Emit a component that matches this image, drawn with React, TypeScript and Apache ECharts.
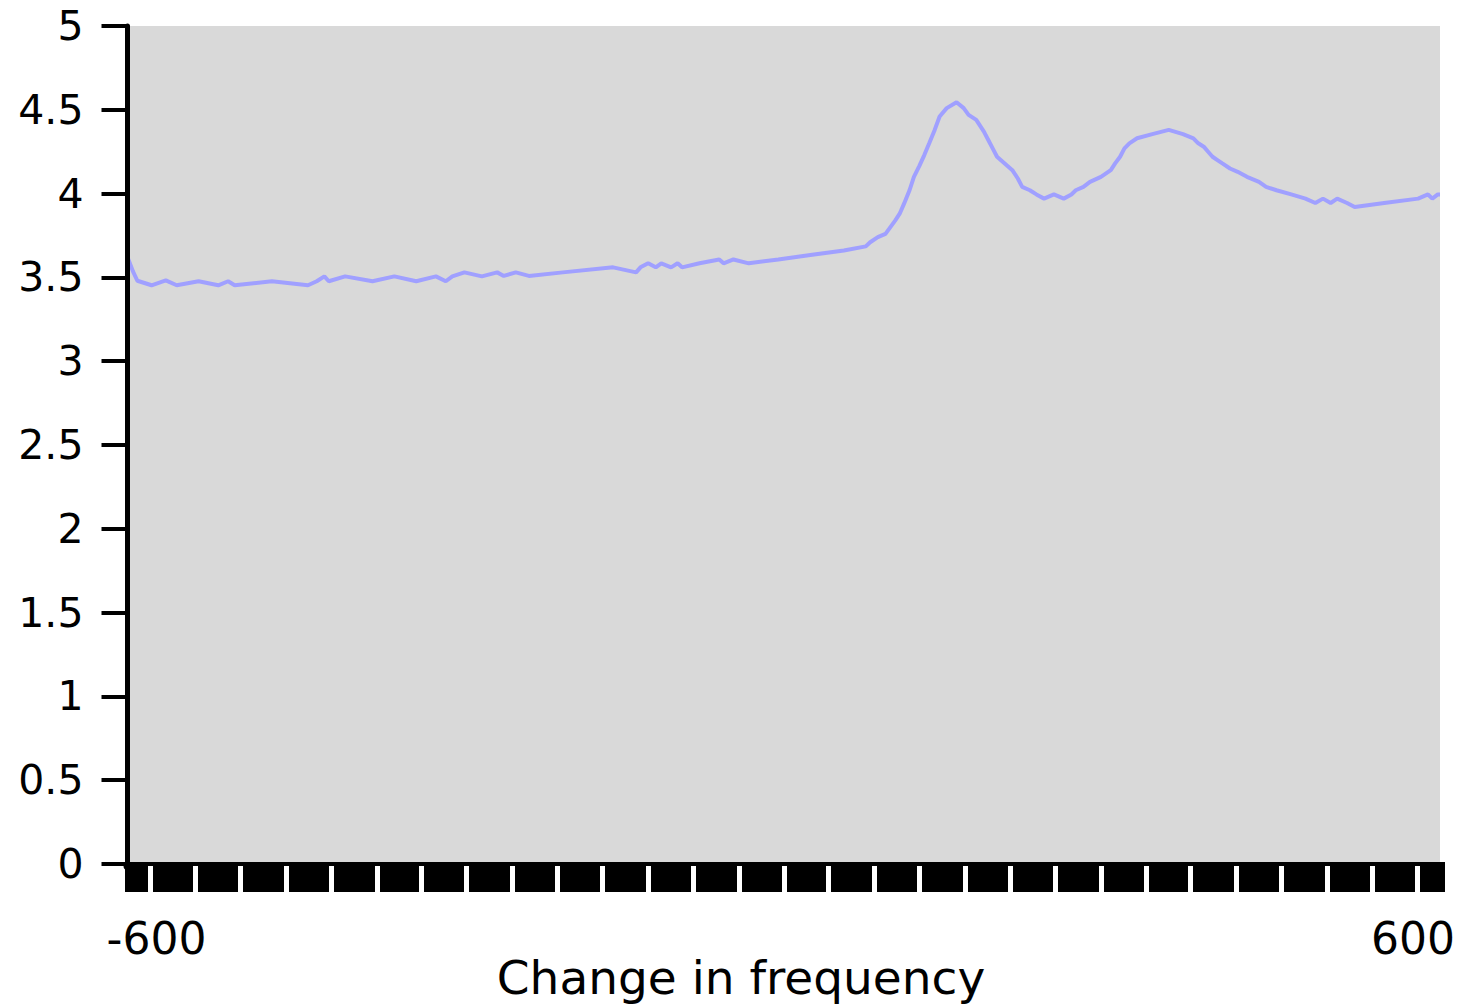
import React, { useEffect, useRef } from "react";
import * as echarts from "echarts";

const freq = [
  -600, -595, -591, -578, -565, -555, -535, -517, -508, -502, -468, -435, -427, -420, -416, -401,
  -376, -356, -336, -318, -309, -303, -292, -276, -262, -256, -245, -233, -202, -156, -135, -131,
  -124, -117, -112, -103, -97, -93, -77, -59, -55, -46, -32, -5, 26, 55, 75, 79, 86, 93, 97.5, 102,
  106, 110, 115, 119, 124, 128.5, 133, 138, 142.5, 149, 158, 164.5, 169, 176, 183, 187, 191, 195,
  202, 209, 214, 218, 225, 231, 238, 247, 256, 263, 267, 274, 280, 290, 299, 303, 307.5, 311.5, 316,
  323, 337, 352, 365, 374.5, 379, 384, 388, 392, 396.5, 401, 408, 415, 423.5, 434.5, 441, 450.5, 464,
  477, 486, 493, 500, 506, 515, 522, 549, 580, 589, 593, 598, 600,
];

const amplitude = [
  3.62, 3.536, 3.48, 3.453, 3.482, 3.453, 3.477, 3.453, 3.477, 3.453, 3.477, 3.453, 3.477, 3.506,
  3.477, 3.506, 3.477, 3.506, 3.477, 3.506, 3.477, 3.506, 3.53, 3.506, 3.53, 3.509, 3.53, 3.509,
  3.53, 3.56, 3.53, 3.56, 3.584, 3.56, 3.584, 3.56, 3.584, 3.56, 3.584, 3.607, 3.584, 3.607, 3.584,
  3.607, 3.635, 3.66, 3.685, 3.71, 3.74, 3.76, 3.8, 3.84, 3.88, 3.94, 4.02, 4.1, 4.165, 4.23, 4.3,
  4.38, 4.46, 4.51, 4.545, 4.51, 4.47, 4.44, 4.37, 4.32, 4.27, 4.22, 4.18, 4.14, 4.09, 4.04, 4.02,
  3.995, 3.97, 3.995, 3.97, 3.995, 4.02, 4.04, 4.07, 4.1, 4.14, 4.18, 4.22, 4.27, 4.3, 4.33, 4.355,
  4.38, 4.355, 4.33, 4.3, 4.28, 4.25, 4.22, 4.2, 4.18, 4.15, 4.13, 4.1, 4.07, 4.04, 4.02, 3.995,
  3.97, 3.944, 3.97, 3.944, 3.97, 3.944, 3.92, 3.944, 3.97, 3.995, 3.97, 3.995, 3.995,
];

const xTickValues = [
  -579, -538, -497, -455, -414, -372, -331, -290, -248, -207, -166, -124, -83, -41, 0, 41, 83, 124,
  166, 207, 248, 290, 331, 372, 414, 455, 497, 538, 579,
];
const xLabelValues = [-600, 600];
const axisTitle = "Change in frequency";

const FONT = '"DejaVu Sans", sans-serif';

export default function App() {
  const ref = useRef<HTMLDivElement>(null);

  useEffect(() => {
    if (!ref.current) return;
    const chart = echarts.init(ref.current, undefined, { renderer: "svg" });
    const data = freq.map((f, i) => [f, amplitude[i]]);
    chart.setOption({
      animation: false,
      backgroundColor: "#ffffff",
      grid: {
        left: 127.5,
        top: 26,
        width: 1312.5,
        height: 838,
        show: true,
        backgroundColor: "#d9d9d9",
        borderWidth: 0,
      },
      xAxis: {
        type: "value",
        min: -600,
        max: 600,
        offset: 2,
        z: 5,
        axisLine: { show: true, onZero: false, lineStyle: { color: "#000", width: 8 } },
        axisTick: {
          show: true,
          customValues: xTickValues,
          length: 26,
          lineStyle: { color: "#ffffff", width: 5 },
        },
        splitLine: { show: false },
        axisLabel: {
          customValues: xLabelValues,
          fontSize: 44,
          fontFamily: FONT,
          color: "#000",
          margin: 50,
          formatter: (v: number) => (v < 0 ? `{a|${v}}` : `{b|${v}}`),
          rich: {
            a: { fontSize: 44, fontFamily: FONT, color: "#000", padding: [0, 0, 0, 58] },
            b: { fontSize: 44, fontFamily: FONT, color: "#000", padding: [0, 54, 0, 0] },
          },
        },
      },
      yAxis: {
        type: "value",
        min: 0,
        max: 5,
        interval: 0.5,
        z: 5,
        axisLine: { show: true, onZero: false, lineStyle: { color: "#000", width: 5 } },
        axisTick: { show: true, length: 26, lineStyle: { color: "#000", width: 4 } },
        splitLine: { show: false },
        axisLabel: { fontSize: 41, fontFamily: FONT, color: "#000", margin: 44 },
      },
      graphic: [
        {
          type: "rect",
          z: 0,
          shape: { x: 125, y: 862, width: 1320, height: 30 },
          style: { fill: "#000" },
        },
        {
          type: "text",
          x: 741,
          y: 977,
          style: {
            text: axisTitle,
            font: `47px ${FONT}`,
            fill: "#000",
            textAlign: "center",
            textVerticalAlign: "middle",
          },
        },
      ],
      series: [
        {
          type: "line",
          data,
          showSymbol: false,
          lineStyle: { color: "#a0a0ff", width: 4 },
          z: 3,
        },
      ],
    });
    return () => chart.dispose();
  }, []);

  return (
    <div
      ref={ref}
      style={{ position: "fixed", left: 0, top: 0, width: 1460, height: 1005 }}
    />
  );
}
